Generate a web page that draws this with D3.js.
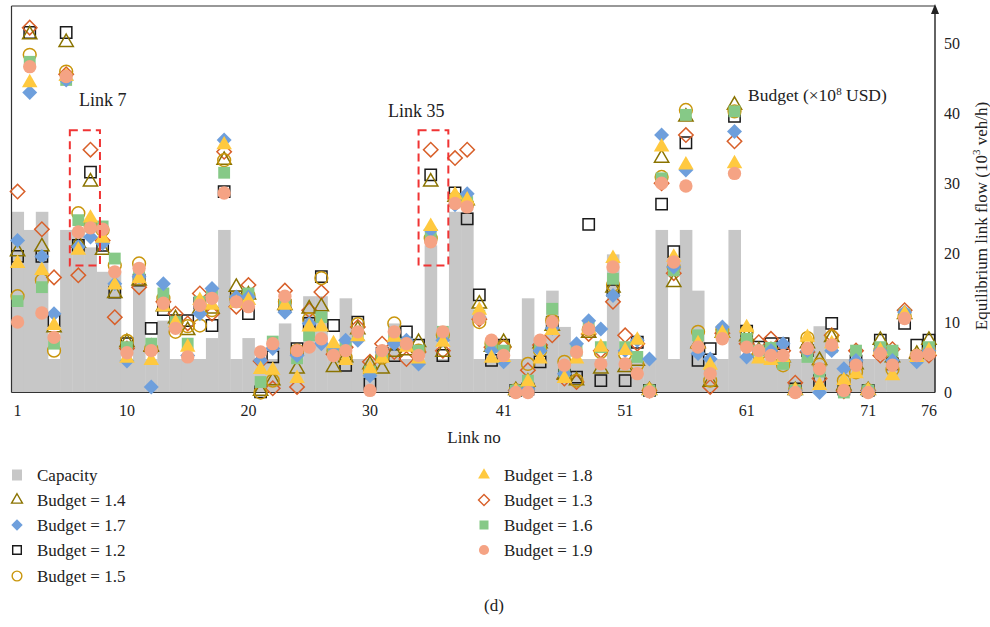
<!DOCTYPE html>
<html>
<head>
<meta charset="utf-8">
<script src="https://cdn.jsdelivr.net/npm/d3@7"></script>
<style>
  body { margin: 0; background: #fff; }
  svg text { font-family: "Liberation Serif", "Times New Roman", serif; fill: #222; }
</style>
</head>
<body>
<svg id="chart" width="990" height="627"></svg>
<script>
/* ------------------------------- Data ------------------------------- */
const links = d3.range(1, 77);
const xTicks = [1, 10, 20, 30, 41, 51, 61, 71, 76];
const yTicks = [0, 10, 20, 30, 40, 50];

const capacity = [25.9, 23.3, 25.9, 4.8, 23.3, 23.3, 20.8, 17.3, 17.3, 4.8,
  16.4, 4.8, 10.3, 4.8, 4.8, 4.8, 7.8, 23.3, 4.8, 7.8,
  4.8, 4.8, 9.9, 4.8, 13.8, 13.8, 4.8, 13.5, 4.8, 4.8,
  4.8, 9.9, 4.8, 4.8, 21.1, 4.8, 25.9, 25.9, 4.8, 4.8,
  4.8, 4.8, 13.5, 4.8, 14.6, 9.4, 4.8, 4.8, 4.8, 19.8,
  4.8, 4.8, 4.8, 23.3, 4.8, 23.3, 14.6, 4.8, 4.8, 23.3,
  4.8, 4.8, 4.8, 4.8, 4.8, 4.8, 9.5, 4.8, 4.8, 4.8,
  4.8, 4.8, 4.8, 4.8, 4.8, 4.8];

const budget12 = [19.5, 51.6, 19.5, 10.3, 51.6, 21.1, 31.6, 21.1, 14.4, 7.0,
  16.1, 9.2, 11.9, 10.3, 10.3, 12.8, 9.6, 28.8, 13.7, 11.3,
  0.1, 5.1, 12.5, 6.3, 9.9, 16.6, 9.6, 3.9, 10.1, 1.2,
  5.6, 5.3, 8.7, 6.8, 31.2, 5.3, 28.6, 24.9, 14.0, 4.6,
  6.8, 0.3, 0.5, 4.4, 10.0, 2.5, 2.2, 24.1, 1.7, 14.6,
  1.7, 7.2, 0.3, 27.0, 20.2, 35.8, 4.6, 6.3, 8.5, 39.6,
  8.8, 6.5, 7.0, 7.0, 0.5, 6.0, 1.7, 9.9, 0.5, 4.5,
  0.3, 7.5, 4.1, 9.9, 6.8, 7.5];

const budget13 = [28.8, 52.3, 23.4, 16.5, 45.6, 16.8, 34.8, 21.8, 10.8, 6.3,
  15.1, 6.0, 13.0, 11.3, 9.9, 14.2, 11.3, 34.5, 12.3, 15.4,
  4.5, 0.6, 14.6, 0.8, 11.8, 14.4, 5.5, 6.5, 9.4, 4.4,
  7.0, 5.8, 4.8, 5.8, 34.8, 6.0, 33.6, 34.8, 10.5, 6.5,
  6.5, 0.3, 3.2, 6.8, 8.2, 2.0, 1.5, 8.4, 6.0, 13.0,
  8.2, 7.0, 0.3, 30.0, 17.1, 36.9, 6.5, 0.8, 8.5, 36.0,
  7.0, 7.2, 7.7, 6.0, 1.4, 5.8, 2.0, 8.2, 0.2, 6.0,
  0.3, 5.3, 6.2, 11.8, 5.0, 5.3];

const budget14 = [20.2, 51.3, 20.9, 9.3, 50.2, 21.4, 30.2, 20.4, 14.2, 7.2,
  16.0, 6.5, 12.3, 10.6, 8.9, 12.0, 12.0, 33.3, 15.1, 14.0,
  0.2, 1.7, 12.5, 3.4, 12.0, 12.3, 3.6, 5.0, 9.0, 4.0,
  3.4, 5.8, 6.0, 7.2, 30.2, 5.8, 28.0, 27.5, 12.7, 6.5,
  7.2, 0.3, 1.5, 7.0, 9.5, 2.5, 1.7, 8.5, 3.4, 15.0,
  3.6, 4.5, 0.3, 33.6, 15.8, 39.5, 7.0, 1.5, 8.5, 41.2,
  8.0, 6.0, 6.0, 5.0, 0.3, 7.0, 4.6, 7.9, 1.0, 4.0,
  0.3, 7.5, 5.0, 11.2, 5.5, 7.5];

const budget15 = [13.8, 48.4, 16.1, 6.0, 46.0, 25.7, 24.0, 23.3, 18.2, 7.4,
  18.5, 6.3, 13.5, 8.7, 9.5, 9.6, 11.8, 33.3, 13.5, 13.9,
  0.0, 1.7, 13.0, 6.0, 10.5, 16.4, 6.0, 5.0, 9.8, 3.0,
  5.0, 9.9, 7.0, 6.0, 22.1, 8.2, 27.8, 27.0, 10.1, 7.0,
  6.5, 0.3, 4.1, 6.0, 10.3, 4.4, 1.7, 9.0, 5.8, 15.4,
  5.5, 4.0, 0.3, 30.9, 18.0, 40.5, 8.7, 1.7, 9.0, 40.3,
  8.7, 5.5, 6.0, 3.9, 0.3, 7.8, 4.0, 8.0, 1.7, 2.9,
  0.3, 6.0, 3.3, 11.0, 5.3, 6.0];

const budget16 = [13.1, 47.4, 15.1, 7.0, 44.8, 24.7, 23.8, 23.8, 19.2, 6.5,
  17.0, 7.0, 14.2, 10.1, 7.0, 13.0, 14.0, 31.5, 13.0, 14.2,
  1.5, 7.3, 13.3, 4.9, 8.2, 10.8, 6.0, 6.5, 8.5, 3.0,
  5.5, 8.5, 7.0, 6.0, 22.3, 8.7, 27.6, 27.3, 11.0, 6.5,
  6.0, 0.3, 1.7, 6.5, 12.0, 3.0, 6.0, 9.5, 6.5, 16.3,
  6.5, 5.1, 0.3, 30.7, 17.5, 39.8, 8.2, 3.0, 8.5, 40.3,
  7.7, 6.0, 6.4, 4.1, 0.3, 5.1, 3.0, 6.5, 0.0, 6.0,
  0.3, 6.5, 6.0, 11.2, 5.0, 6.5];

const budget17 = [21.8, 43.0, 19.5, 11.3, 44.8, 20.9, 22.3, 21.4, 15.6, 4.5,
  16.6, 0.8, 15.6, 9.4, 5.3, 11.3, 14.9, 36.2, 13.7, 13.7,
  4.6, 6.3, 11.5, 5.3, 9.9, 7.0, 6.5, 7.5, 7.5, 2.4,
  5.8, 7.0, 7.5, 4.1, 23.3, 7.5, 26.9, 28.5, 10.8, 6.0,
  4.4, 0.3, 0.5, 6.0, 9.2, 2.7, 7.0, 10.3, 9.1, 13.9,
  6.0, 7.5, 4.8, 36.9, 18.0, 31.9, 5.6, 4.8, 9.4, 37.4,
  5.1, 6.0, 6.0, 7.0, 0.3, 6.0, 0.0, 6.0, 3.4, 4.6,
  0.3, 6.0, 4.6, 11.5, 4.4, 6.0];

const budget18 = [18.5, 44.4, 17.5, 9.6, 45.3, 20.4, 25.0, 22.1, 15.4, 4.9,
  16.3, 4.6, 12.3, 10.0, 6.5, 13.2, 12.5, 35.5, 12.8, 13.2,
  3.3, 3.2, 12.5, 2.0, 9.4, 9.4, 7.0, 4.6, 8.0, 3.4,
  4.9, 7.9, 6.5, 4.8, 23.8, 7.2, 28.3, 27.6, 11.8, 4.9,
  5.0, 0.2, 1.5, 4.8, 8.9, 2.0, 4.8, 9.0, 6.5, 19.2,
  6.0, 7.5, 0.3, 35.2, 19.4, 32.6, 7.0, 3.9, 8.5, 32.8,
  9.3, 4.8, 4.6, 5.0, 0.3, 7.9, 1.0, 7.0, 1.7, 2.7,
  0.3, 6.0, 2.4, 11.3, 5.0, 6.0];

const budget19 = [10.1, 46.7, 11.4, 7.9, 45.3, 23.0, 23.6, 23.4, 17.3, 5.7,
  17.8, 6.0, 12.8, 9.2, 5.1, 12.5, 13.5, 28.6, 13.0, 12.3,
  5.8, 7.0, 13.8, 6.0, 6.5, 7.7, 5.3, 6.0, 8.7, 0.3,
  6.0, 8.7, 7.0, 5.3, 21.6, 8.7, 27.1, 26.6, 10.6, 7.5,
  5.3, 0.0, 0.0, 7.5, 10.1, 3.9, 5.8, 9.1, 4.1, 18.0,
  4.1, 2.7, 0.1, 30.0, 18.7, 29.6, 6.5, 2.7, 7.7, 31.4,
  6.5, 6.0, 5.3, 5.3, 0.0, 6.3, 3.4, 6.8, 0.3, 3.9,
  0.0, 5.6, 3.9, 10.6, 5.3, 5.5];

/* ------------------------------ Layout ------------------------------ */
const svg = d3.select('#chart');
const fontFamily = '"Liberation Serif", "Times New Roman", serif';

const x = d3.scaleBand().domain(links).range([11.5, 935]).padding(0);
const y = d3.scaleLinear().domain([0, 55.4]).range([392.5, 6]);
const cx = d => x(d) + x.bandwidth() / 2;
// continuous link position, used for the dashed highlight boxes
const linkPos = d3.scaleLinear().domain([1, 76]).range([cx(1), cx(76)]);

// capacity bars
svg.append('g')
    .selectAll('rect')
    .data(links)
    .enter()
    .append('rect')
    .attr('x', d => x(d))
    .attr('width', x.bandwidth() + 0.4)
    .attr('y', (d, i) => y(capacity[i]))
    .attr('height', (d, i) => y(0) - y(capacity[i]))
    .attr('fill', '#c7c7c7');

// frame (left, top, bottom)
const [x0, x1] = x.range();
const yTop = y.range()[1];
const frame = svg.append('g').attr('stroke', '#333').attr('stroke-width', 1.2).attr('fill', 'none');
frame.append('line').attr('x1', x0).attr('x2', x0).attr('y1', yTop).attr('y2', y(0));
frame.append('line').attr('x1', x0).attr('x2', x1).attr('y1', yTop).attr('y2', yTop);
frame.append('line').attr('x1', x0).attr('x2', x1).attr('y1', y(0)).attr('y2', y(0));

// right axis with arrow
svg.append('line')
    .attr('x1', x1).attr('x2', x1)
    .attr('y1', y(0)).attr('y2', yTop + 4)
    .attr('stroke', '#222').attr('stroke-width', 1.4);
svg.append('path')
    .attr('d', `M${x1},${yTop - 2} L${x1 - 4},${yTop + 8} L${x1 + 4},${yTop + 8} Z`)
    .attr('fill', '#222');

const yAxis = svg.append('g')
    .attr('transform', `translate(${x1},0)`)
    .call(d3.axisRight(y).tickValues(yTicks).tickSize(0).tickPadding(9));
yAxis.select('.domain').remove();
yAxis.attr('font-family', fontFamily).attr('font-size', 16);
yAxis.selectAll('text').attr('fill', '#222');

const xAxis = svg.append('g')
    .attr('transform', `translate(0,${y(0)})`)
    .call(d3.axisBottom(x).tickValues(xTicks).tickSize(0).tickPadding(12));
xAxis.select('.domain').remove();
xAxis.attr('font-family', fontFamily).attr('font-size', 16);
xAxis.selectAll('text').attr('fill', '#222');

// axis titles
svg.append('text')
    .attr('x', 474).attr('y', 443)
    .attr('text-anchor', 'middle')
    .attr('font-size', 17)
    .text('Link no');

const yTitle = svg.append('text')
    .attr('transform', 'translate(987,216) rotate(-90)')
    .attr('text-anchor', 'middle')
    .attr('font-size', 17);
yTitle.append('tspan').text('Equilibrium link flow (10');
yTitle.append('tspan').attr('dy', -7).attr('font-size', 11).text('3');
yTitle.append('tspan').attr('dy', 7).text(' veh/h)');

/* ------------------------------ Markers ----------------------------- */
const series = [
    { name: 'Budget = 1.2', values: budget12, shape: d3.symbolSquare, size: 128, fill: 'none', stroke: '#1a1a1a' },
    { name: 'Budget = 1.3', values: budget13, shape: d3.symbolSquare, size: 104, fill: 'none', stroke: '#d8602a', rotate: 45 },
    { name: 'Budget = 1.4', values: budget14, shape: d3.symbolTriangle, size: 88, fill: 'none', stroke: '#8a7300' },
    { name: 'Budget = 1.5', values: budget15, shape: d3.symbolCircle, size: 128, fill: 'none', stroke: '#c9960c' },
    { name: 'Budget = 1.6', values: budget16, shape: d3.symbolSquare, size: 140, fill: '#86c987', stroke: 'none' },
    { name: 'Budget = 1.7', values: budget17, shape: d3.symbolSquare, size: 112, fill: '#6e9fdc', stroke: 'none', rotate: 45 },
    { name: 'Budget = 1.8', values: budget18, shape: d3.symbolTriangle, size: 104, fill: '#ffc93f', stroke: 'none' },
    { name: 'Budget = 1.9', values: budget19, shape: d3.symbolCircle, size: 140, fill: '#f5a384', stroke: 'none' }
];

series.forEach(s => {
    const sym = d3.symbol().type(s.shape).size(s.size);
    svg.append('g')
        .selectAll('path')
        .data(s.values)
        .enter()
        .append('path')
        .attr('d', sym)
        .attr('transform', (v, i) => `translate(${cx(links[i])},${y(v)})` + (s.rotate ? ` rotate(${s.rotate})` : ''))
        .attr('fill', s.fill)
        .attr('stroke', s.stroke)
        .attr('stroke-width', 1.5);
});

/* --------------------------- Annotations ---------------------------- */
const boxes = [
    { from: 5.3, to: 7.78, lo: 18.2, hi: 37.6 },
    { from: 34.0, to: 36.45, lo: 18.2, hi: 37.6 }
];
svg.append('g')
    .selectAll('rect')
    .data(boxes)
    .enter()
    .append('rect')
    .attr('x', d => linkPos(d.from))
    .attr('width', d => linkPos(d.to) - linkPos(d.from))
    .attr('y', d => y(d.hi))
    .attr('height', d => y(d.lo) - y(d.hi))
    .attr('fill', 'none')
    .attr('stroke', '#f03434')
    .attr('stroke-width', 2)
    .attr('stroke-dasharray', '8,5');

svg.append('text').attr('x', 79).attr('y', 106).attr('font-size', 18).text('Link 7');
svg.append('text').attr('x', 388).attr('y', 117).attr('font-size', 18).text('Link 35');
const budgetLabel = svg.append('text').attr('x', 748).attr('y', 101).attr('font-size', 17.5);
budgetLabel.append('tspan').text('Budget (×10');
budgetLabel.append('tspan').attr('dy', -6).attr('font-size', 11).text('8');
budgetLabel.append('tspan').attr('dy', 6).text(' USD)');

/* ------------------------------ Legend ------------------------------ */
const legendItems = [
    { label: 'Capacity', col: 0, row: 0 },
    { label: 'Budget = 1.4', col: 0, row: 1 },
    { label: 'Budget = 1.7', col: 0, row: 2 },
    { label: 'Budget = 1.2', col: 0, row: 3 },
    { label: 'Budget = 1.5', col: 0, row: 4 },
    { label: 'Budget = 1.8', col: 1, row: 0 },
    { label: 'Budget = 1.3', col: 1, row: 1 },
    { label: 'Budget = 1.6', col: 1, row: 2 },
    { label: 'Budget = 1.9', col: 1, row: 3 }
];
const colX = [17, 484];
const rowY = [475, 500, 525, 550, 576];

const legend = svg.append('g');
legendItems.forEach(item => {
    const lx = colX[item.col], ly = rowY[item.row];
    const s = series.find(d => d.name === item.label);
    if (!s) {
        legend.append('rect')
            .attr('x', lx - 5).attr('y', ly - 5.5)
            .attr('width', 10).attr('height', 11)
            .attr('fill', '#c7c7c7');
    } else {
        legend.append('path')
            .attr('d', d3.symbol().type(s.shape).size(s.size * 0.58))
            .attr('transform', `translate(${lx},${ly})` + (s.rotate ? ` rotate(${s.rotate})` : ''))
            .attr('fill', s.fill)
            .attr('stroke', s.stroke)
            .attr('stroke-width', 1.4);
    }
    legend.append('text')
        .attr('x', lx + 20).attr('y', ly + 5.5)
        .attr('font-size', 17)
        .text(item.label);
});

svg.append('text')
    .attr('x', 494).attr('y', 611)
    .attr('text-anchor', 'middle')
    .attr('font-size', 17)
    .text('(d)');
</script>
</body>
</html>
